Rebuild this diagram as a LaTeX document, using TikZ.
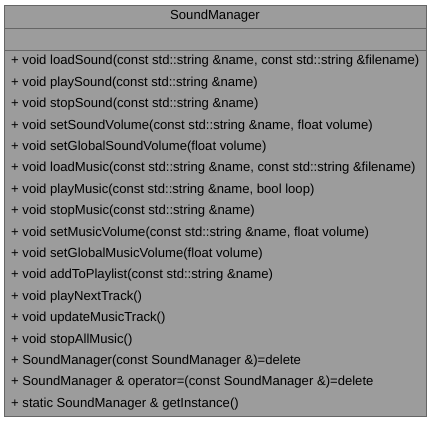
\documentclass[tikz,border=0pt]{standalone}
\usepackage{fontspec}
\setmainfont{Liberation Sans}
\begin{document}
\begin{tikzpicture}[x=1bp,y=-1bp,
  member/.style={anchor=west,inner sep=0pt,font=\fontsize{13.1bp}{15bp}\selectfont,text=black},
  titletext/.style={anchor=center,inner sep=0pt,font=\fontsize{13.1bp}{15bp}\selectfont,text=black}]
\useasboundingbox (0,0) rectangle (431,421);
\definecolor{boxfill}{HTML}{9C9C9C}
\definecolor{boxline}{HTML}{666666}
\node[draw=boxline,fill=boxfill,line width=1bp,minimum width=421bp,minimum height=411bp,inner sep=0pt,anchor=north west] (box) at (4.5,4.5) {};
\coordinate (s1l) at (4.5,28.5); \coordinate (s1r) at (425.5,28.5);
\coordinate (s2l) at (4.5,50.5); \coordinate (s2r) at (425.5,50.5);
\draw[boxline,line width=1bp] (s1l) -- (s1r);
\draw[boxline,line width=1bp] (s2l) -- (s2r);
\node[titletext] (title) at (215,16.5) {SoundManager};
\foreach \t [count=\i from 0] in {
 {+ void loadSound(const std::string \&name, const std::string \&filename)},
 {+ void playSound(const std::string \&name)},
 {+ void stopSound(const std::string \&name)},
 {+ void setSoundVolume(const std::string \&name, float volume)},
 {+ void setGlobalSoundVolume(float volume)},
 {+ void loadMusic(const std::string \&name, const std::string \&filename)},
 {+ void playMusic(const std::string \&name, bool loop)},
 {+ void stopMusic(const std::string \&name)},
 {+ void setMusicVolume(const std::string \&name, float volume)},
 {+ void setGlobalMusicVolume(float volume)},
 {+ void addToPlaylist(const std::string \&name)},
 {+ void playNextTrack()},
 {+ void updateMusicTrack()},
 {+ void stopAllMusic()},
 {+ SoundManager(const SoundManager \&)=delete},
 {+ SoundManager \& operator=(const SoundManager \&)=delete},
 {+ static SoundManager \& getInstance()}}
 { \node[member] (m\i) at (11,61.5+21.4*\i) {\t}; }
\end{tikzpicture}
\end{document}
